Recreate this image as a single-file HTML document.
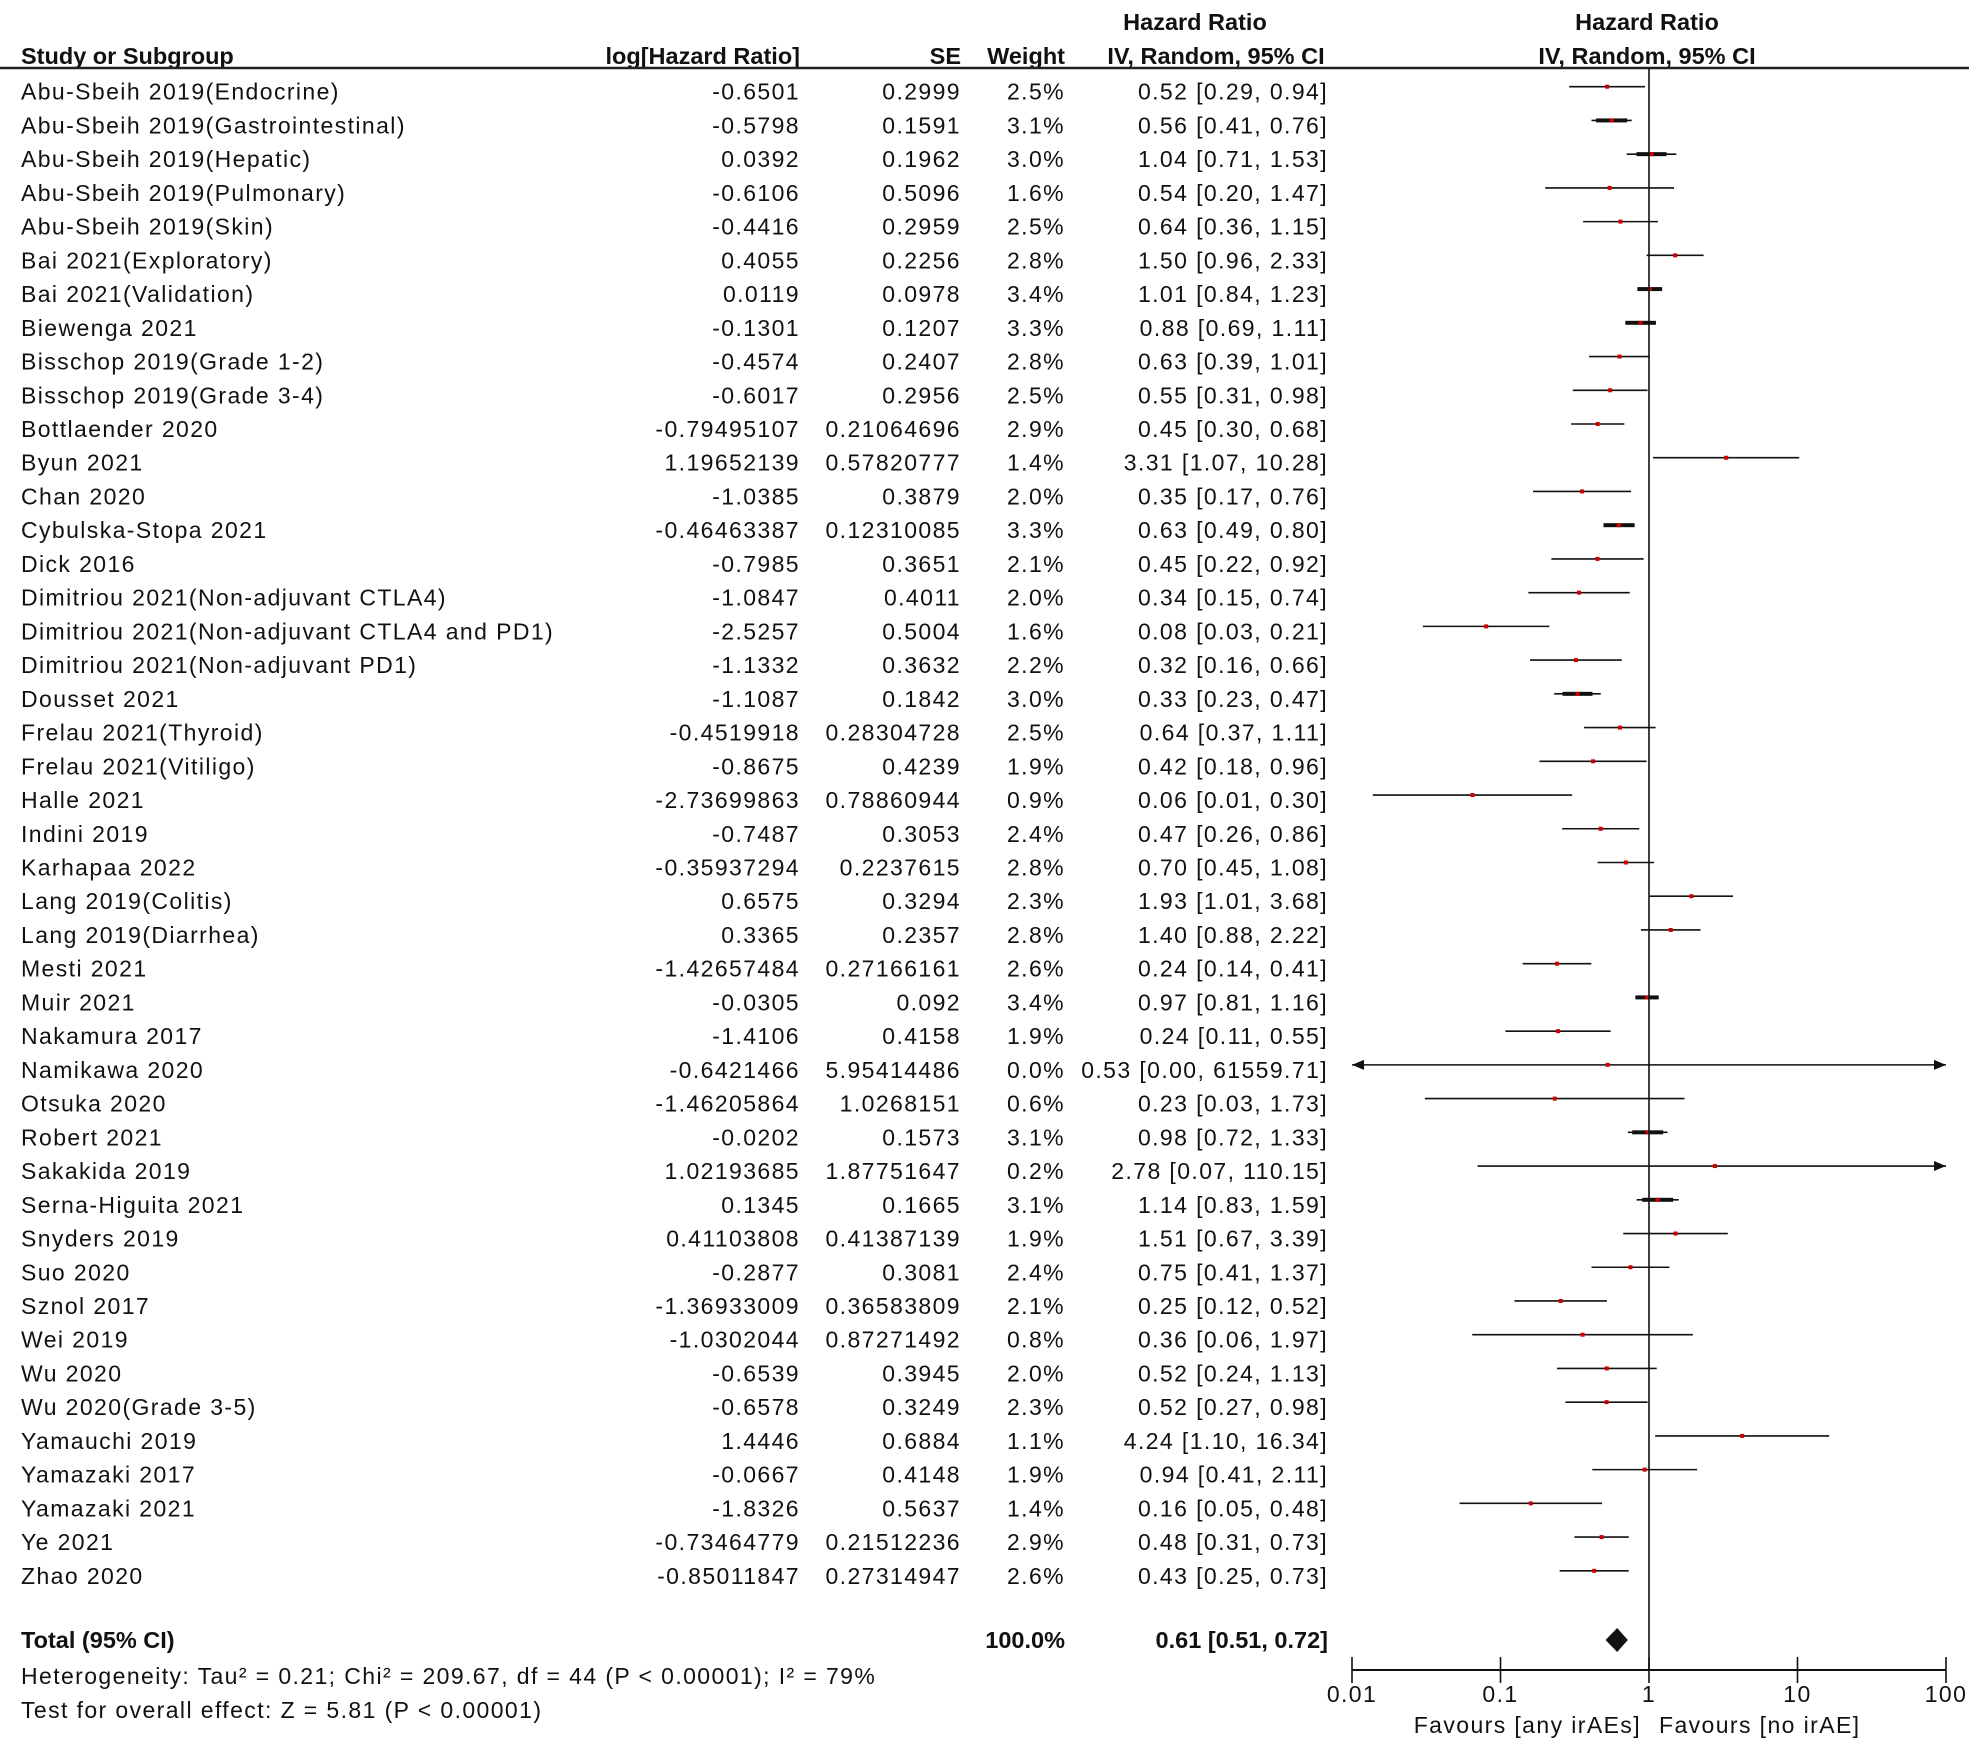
<!DOCTYPE html>
<html><head><meta charset="utf-8">
<style>
html,body{margin:0;padding:0;background:#fff;}
svg{display:block;}
text{font-family:"Liberation Sans",Arial,sans-serif;fill:#111;}
.t{font-size:23px;letter-spacing:1.4px;}
.h{font-size:23.5px;font-weight:bold;}
</style></head>
<body>
<svg id="chart" width="1969" height="1753" viewBox="0 0 1969 1753" xmlns="http://www.w3.org/2000/svg">
<g>
<text class="h" x="21" y="56" dominant-baseline="central">Study or Subgroup</text>
<text class="h" x="800" y="56" text-anchor="end" dominant-baseline="central">log[Hazard Ratio]</text>
<text class="h" x="961" y="56" text-anchor="end" dominant-baseline="central">SE</text>
<text class="h" x="1065" y="56" text-anchor="end" dominant-baseline="central">Weight</text>
<text class="h" x="1195" y="22" text-anchor="middle" dominant-baseline="central">Hazard Ratio</text>
<text class="h" x="1216" y="56" text-anchor="middle" dominant-baseline="central">IV, Random, 95% CI</text>
<text class="h" x="1647" y="22" text-anchor="middle" dominant-baseline="central">Hazard Ratio</text>
<text class="h" x="1647" y="56" text-anchor="middle" dominant-baseline="central">IV, Random, 95% CI</text>
<line x1="0" y1="68" x2="1969" y2="68" stroke="#222" stroke-width="2.5"/>
</g>
<g id="rows"></g>
<g id="marks"></g>
<g id="axis"></g>
<g>
<text class="h" x="21" y="1640" dominant-baseline="central">Total (95% CI)</text>
<text class="h" x="1065" y="1640" text-anchor="end" dominant-baseline="central">100.0%</text>
<text class="h" x="1328" y="1640" text-anchor="end" dominant-baseline="central">0.61 [0.51, 0.72]</text>
<text class="t" x="21" y="1676" dominant-baseline="central">Heterogeneity: Tau² = 0.21; Chi² = 209.67, df = 44 (P &lt; 0.00001); I² = 79%</text>
<text class="t" x="21" y="1710" dominant-baseline="central">Test for overall effect: Z = 5.81 (P &lt; 0.00001)</text>
</g>
</svg>
<script>
const studies=["Abu-Sbeih 2019(Endocrine)","Abu-Sbeih 2019(Gastrointestinal)","Abu-Sbeih 2019(Hepatic)","Abu-Sbeih 2019(Pulmonary)","Abu-Sbeih 2019(Skin)","Bai 2021(Exploratory)","Bai 2021(Validation)","Biewenga 2021","Bisschop 2019(Grade 1-2)","Bisschop 2019(Grade 3-4)","Bottlaender 2020","Byun 2021","Chan 2020","Cybulska-Stopa 2021","Dick 2016","Dimitriou 2021(Non-adjuvant CTLA4)","Dimitriou 2021(Non-adjuvant CTLA4 and PD1)","Dimitriou 2021(Non-adjuvant PD1)","Dousset 2021","Frelau 2021(Thyroid)","Frelau 2021(Vitiligo)","Halle 2021","Indini 2019","Karhapaa 2022","Lang 2019(Colitis)","Lang 2019(Diarrhea)","Mesti 2021","Muir 2021","Nakamura 2017","Namikawa 2020","Otsuka 2020","Robert 2021","Sakakida 2019","Serna-Higuita 2021","Snyders 2019","Suo 2020","Sznol 2017","Wei 2019","Wu 2020","Wu 2020(Grade 3-5)","Yamauchi 2019","Yamazaki 2017","Yamazaki 2021","Ye 2021","Zhao 2020"];
const logHR=["-0.6501","-0.5798","0.0392","-0.6106","-0.4416","0.4055","0.0119","-0.1301","-0.4574","-0.6017","-0.79495107","1.19652139","-1.0385","-0.46463387","-0.7985","-1.0847","-2.5257","-1.1332","-1.1087","-0.4519918","-0.8675","-2.73699863","-0.7487","-0.35937294","0.6575","0.3365","-1.42657484","-0.0305","-1.4106","-0.6421466","-1.46205864","-0.0202","1.02193685","0.1345","0.41103808","-0.2877","-1.36933009","-1.0302044","-0.6539","-0.6578","1.4446","-0.0667","-1.8326","-0.73464779","-0.85011847"];
const seVals=["0.2999","0.1591","0.1962","0.5096","0.2959","0.2256","0.0978","0.1207","0.2407","0.2956","0.21064696","0.57820777","0.3879","0.12310085","0.3651","0.4011","0.5004","0.3632","0.1842","0.28304728","0.4239","0.78860944","0.3053","0.2237615","0.3294","0.2357","0.27166161","0.092","0.4158","5.95414486","1.0268151","0.1573","1.87751647","0.1665","0.41387139","0.3081","0.36583809","0.87271492","0.3945","0.3249","0.6884","0.4148","0.5637","0.21512236","0.27314947"];
const weights=[2.5,3.1,3.0,1.6,2.5,2.8,3.4,3.3,2.8,2.5,2.9,1.4,2.0,3.3,2.1,2.0,1.6,2.2,3.0,2.5,1.9,0.9,2.4,2.8,2.3,2.8,2.6,3.4,1.9,0.0,0.6,3.1,0.2,3.1,1.9,2.4,2.1,0.8,2.0,2.3,1.1,1.9,1.4,2.9,2.6];
const ciLabels=["0.52 [0.29, 0.94]","0.56 [0.41, 0.76]","1.04 [0.71, 1.53]","0.54 [0.20, 1.47]","0.64 [0.36, 1.15]","1.50 [0.96, 2.33]","1.01 [0.84, 1.23]","0.88 [0.69, 1.11]","0.63 [0.39, 1.01]","0.55 [0.31, 0.98]","0.45 [0.30, 0.68]","3.31 [1.07, 10.28]","0.35 [0.17, 0.76]","0.63 [0.49, 0.80]","0.45 [0.22, 0.92]","0.34 [0.15, 0.74]","0.08 [0.03, 0.21]","0.32 [0.16, 0.66]","0.33 [0.23, 0.47]","0.64 [0.37, 1.11]","0.42 [0.18, 0.96]","0.06 [0.01, 0.30]","0.47 [0.26, 0.86]","0.70 [0.45, 1.08]","1.93 [1.01, 3.68]","1.40 [0.88, 2.22]","0.24 [0.14, 0.41]","0.97 [0.81, 1.16]","0.24 [0.11, 0.55]","0.53 [0.00, 61559.71]","0.23 [0.03, 1.73]","0.98 [0.72, 1.33]","2.78 [0.07, 110.15]","1.14 [0.83, 1.59]","1.51 [0.67, 3.39]","0.75 [0.41, 1.37]","0.25 [0.12, 0.52]","0.36 [0.06, 1.97]","0.52 [0.24, 1.13]","0.52 [0.27, 0.98]","4.24 [1.10, 16.34]","0.94 [0.41, 2.11]","0.16 [0.05, 0.48]","0.48 [0.31, 0.73]","0.43 [0.25, 0.73]"];
const total=[0.61,0.51,0.72];
const axisTicks=[0.01,0.1,1,10,100];
const tickLabels=["0.01","0.1","1","10","100"];

const NS="http://www.w3.org/2000/svg";
const X0=1352,X1=1946,LMIN=-2,LMAX=2;
function xs(v){return X0+(Math.log10(v)-LMIN)/(LMAX-LMIN)*(X1-X0);}
function rowY(i){return 91.7+i*33.73;}
function mk(tag,attrs,parent,txt){const e=document.createElementNS(NS,tag);for(const k in attrs)e.setAttribute(k,attrs[k]);if(txt!==undefined)e.textContent=txt;parent.appendChild(e);return e;}
const rows=document.getElementById('rows'),marks=document.getElementById('marks'),axis=document.getElementById('axis');

studies.forEach((s,i)=>{
  const y=rowY(i);
  const g=mk('g',{},rows);
  
  
  const cols=[[s,21,'start'],[logHR[i],800,'end'],[seVals[i],961,'end'],[weights[i].toFixed(1)+'%',1065,'end'],[ciLabels[i],1328,'end']];
  const names=['study-name','log-hr-value','se-value','weight-value','ci-value'];
  cols.forEach((c,j)=>{
    const t=mk('text',{class:'t',x:c[1],y:y,'text-anchor':c[2],'dominant-baseline':'central'},g,c[0]);
    
    
  });
  const l=parseFloat(logHR[i]),se=parseFloat(seVals[i]);
  const hr=Math.exp(l),lo=Math.exp(l-1.96*se),hi=Math.exp(l+1.96*se);
  const my=y-5;
  const xl=Math.max(X0,xs(lo)),xh=Math.min(X1,xs(hi)),xp=xs(hr);
  const mg=mk('g',{},marks);
  
  
  mk('line',{x1:xl,y1:my,x2:xh,y2:my,stroke:'#111','stroke-width':1.6},mg);
  if(xs(lo)<X0) mk('path',{d:`M${X0} ${my} l12 -5 v10 z`,fill:'#111'},mg);
  if(xs(hi)>X1) mk('path',{d:`M${X1} ${my} l-12 -5 v10 z`,fill:'#111'},mg);
  const bw=Math.min(weights[i]*10,xh-xl);
  if(weights[i]>=3.0){mk('rect',{x:xp-bw/2,y:my-2,width:bw,height:4,fill:'#111'},mg);}
  const sq=mk('rect',{x:xp-2,y:my-2,width:4,height:4,fill:'#d00000'},mg);
  
  
});

const v=mk('line',{x1:xs(1),y1:68,x2:xs(1),y2:1670,stroke:'#111','stroke-width':1.6},marks);


const dy=1640;
const dia=mk('path',{d:`M${xs(total[1])} ${dy} L${xs(total[0])} ${dy-12} L${xs(total[2])} ${dy} L${xs(total[0])} ${dy+12} Z`,fill:'#111'},marks);


mk('line',{x1:X0,y1:1670,x2:X1,y2:1670,stroke:'#111','stroke-width':2},axis);
axisTicks.forEach((t,i)=>{
  const x=xs(t);
  const tk=mk('line',{x1:x,y1:1657,x2:x,y2:1683,stroke:'#111','stroke-width':1.6},axis);
  
  
  const tl=mk('text',{class:'t',x:x,y:1694,'text-anchor':'middle','dominant-baseline':'central'},axis,tickLabels[i]);
  
  
});
const f1=mk('text',{class:'t',x:xs(1)-8,y:1725,'text-anchor':'end','dominant-baseline':'central'},axis,'Favours [any irAEs]');


const f2=mk('text',{class:'t',x:xs(1)+10,y:1725,'text-anchor':'start','dominant-baseline':'central'},axis,'Favours [no irAE]');


</script>
</body></html>
